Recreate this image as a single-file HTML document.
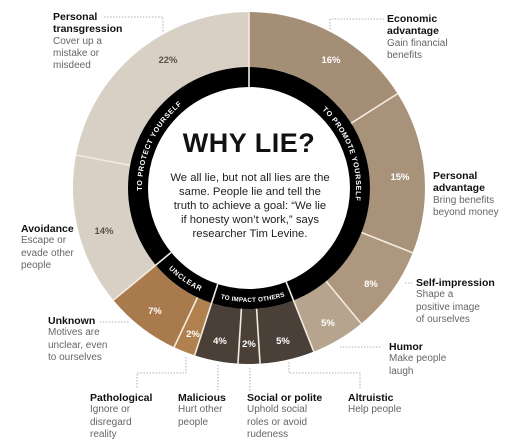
<!DOCTYPE html>
<html><head><meta charset="utf-8"><style>
html,body{margin:0;padding:0;background:#fff;}
body{width:512px;height:441px;overflow:hidden;position:relative;font-family:"Liberation Sans",sans-serif;}
.l{position:absolute;font-size:10px;line-height:12.3px;color:#666;white-space:nowrap;}
.l b{color:#111;font-size:10.5px;display:block;}
</style></head><body>
<svg width="512" height="441" style="position:absolute;left:0;top:0" font-family="Liberation Sans, sans-serif">
<g transform="rotate(-90 249 188)" fill="none" stroke-width="55">
<circle cx="249" cy="188" r="148.5" pathLength="100" stroke="#a58e76" stroke-dasharray="16 100" stroke-dashoffset="0"/>
<circle cx="249" cy="188" r="148.5" pathLength="100" stroke="#a8927a" stroke-dasharray="15 100" stroke-dashoffset="-16"/>
<circle cx="249" cy="188" r="148.5" pathLength="100" stroke="#ad977f" stroke-dasharray="8 100" stroke-dashoffset="-31"/>
<circle cx="249" cy="188" r="148.5" pathLength="100" stroke="#b7a48e" stroke-dasharray="5 100" stroke-dashoffset="-39"/>
<circle cx="249" cy="188" r="148.5" pathLength="100" stroke="#4b4038" stroke-dasharray="11 100" stroke-dashoffset="-44"/>
<circle cx="249" cy="188" r="148.5" pathLength="100" stroke="#b0804f" stroke-dasharray="2 100" stroke-dashoffset="-55"/>
<circle cx="249" cy="188" r="148.5" pathLength="100" stroke="#a97a4b" stroke-dasharray="7 100" stroke-dashoffset="-57"/>
<circle cx="249" cy="188" r="148.5" pathLength="100" stroke="#d9d0c5" stroke-dasharray="36 100" stroke-dashoffset="-64"/>
</g>
<circle cx="249" cy="188" r="111" fill="none" stroke="#000" stroke-width="20"/>
<g stroke="#f3ebe0" stroke-width="1.6">
<line x1="249" y1="87" x2="249" y2="12" transform="rotate(0 249 188)"/>
<line x1="249" y1="67" x2="249" y2="12" transform="rotate(57.6 249 188)"/>
<line x1="249" y1="67" x2="249" y2="12" transform="rotate(111.6 249 188)"/>
<line x1="249" y1="67" x2="249" y2="12" transform="rotate(140.4 249 188)"/>
<line x1="249" y1="87" x2="249" y2="12" transform="rotate(158.4 249 188)"/>
<line x1="249" y1="67" x2="249" y2="12" transform="rotate(176.4 249 188)"/>
<line x1="249" y1="67" x2="249" y2="12" transform="rotate(183.6 249 188)"/>
<line x1="249" y1="87" x2="249" y2="12" transform="rotate(198 249 188)"/>
<line x1="249" y1="67" x2="249" y2="12" transform="rotate(205.2 249 188)"/>
<line x1="249" y1="87" x2="249" y2="12" transform="rotate(230.4 249 188)"/>
<line x1="249" y1="67" x2="249" y2="12" transform="rotate(280.8 249 188)"/>
</g>
<defs>
<path id="p1" d="M167,256.8 A107,107 0 0 1 249,81"/>
<path id="p2" d="M249,81 A107,107 0 0 1 317.8,270"/>
<path id="p3" d="M155.6,253.4 A114,114 0 0 0 219.5,298.1"/>
<path id="p4" d="M213.8,296.4 A114,114 0 0 0 291.7,293.7"/>
</defs>
<g fill="#fff" font-size="7.2" font-weight="bold" letter-spacing="0.6">
<text><textPath href="#p1" startOffset="50%" text-anchor="middle">TO PROTECT YOURSELF</textPath></text>
<text><textPath href="#p2" startOffset="50%" text-anchor="middle">TO PROMOTE YOURSELF</textPath></text>
<text><textPath href="#p3" startOffset="50%" text-anchor="middle">UNCLEAR</textPath></text>
<text font-size="6.3" letter-spacing="0.2"><textPath href="#p4" startOffset="50%" text-anchor="middle">TO IMPACT OTHERS</textPath></text>
</g>
<g font-size="9.5" font-weight="bold" text-anchor="middle">
<text x="168" y="63" fill="#5a5047">22%</text>
<text x="104" y="234" fill="#5a5047">14%</text>
<text x="331" y="63" fill="#fff">16%</text>
<text x="400" y="180" fill="#fff">15%</text>
<text x="371" y="287" fill="#fff">8%</text>
<text x="328" y="326" fill="#fff">5%</text>
<text x="283" y="344" fill="#fff">5%</text>
<text x="249" y="347" fill="#fff">2%</text>
<text x="220" y="344" fill="#fff">4%</text>
<text x="193" y="337" fill="#fff">2%</text>
<text x="155" y="314" fill="#fff">7%</text>
</g>
<text x="249" y="152" text-anchor="middle" font-size="27" font-weight="bold" fill="#111" letter-spacing="0.5">WHY LIE?</text>
<g font-size="11.3" fill="#222" text-anchor="middle">
<text x="250" y="181">We all lie, but not all lies are the</text>
<text x="250" y="195">same. People lie and tell the</text>
<text x="250" y="209">truth to achieve a goal: “We lie</text>
<text x="250" y="223">if honesty won’t work,” says</text>
<text x="250" y="237">researcher Tim Levine.</text>
</g>
<g fill="none" stroke="#999" stroke-width="0.8" stroke-dasharray="1.5 1.5">
<polyline points="104,17 163,17 163,33"/>
<polyline points="384,19 330,19 330,30"/>
<polyline points="405,283 412,283"/>
<polyline points="100,322 130,322"/>
<polyline points="340,347 382,347"/>
<polyline points="186,357 186,373 137,373 137,388"/>
<polyline points="218,365 218,390"/>
<polyline points="250,368 250,392"/>
<polyline points="289,362 289,373 360,373 360,390"/>
</g>
</svg>
<div class="l" style="left:53px;top:11px"><b>Personal<br>transgression</b>Cover up a<br>mistake or<br>misdeed</div>
<div class="l" style="left:387px;top:13px"><b>Economic<br>advantage</b>Gain financial<br>benefits</div>
<div class="l" style="left:433px;top:170px"><b>Personal<br>advantage</b>Bring benefits<br>beyond money</div>
<div class="l" style="left:21px;top:223px"><b>Avoidance</b>Escape or<br>evade other<br>people</div>
<div class="l" style="left:416px;top:277px"><b>Self-impression</b>Shape a<br>positive image<br>of ourselves</div>
<div class="l" style="left:48px;top:315px"><b>Unknown</b>Motives are<br>unclear, even<br>to ourselves</div>
<div class="l" style="left:389px;top:341px"><b>Humor</b>Make people<br>laugh</div>
<div class="l" style="left:90px;top:392px"><b>Pathological</b>Ignore or<br>disregard<br>reality</div>
<div class="l" style="left:178px;top:392px"><b>Malicious</b>Hurt other<br>people</div>
<div class="l" style="left:247px;top:392px"><b>Social or polite</b>Uphold social<br>roles or avoid<br>rudeness</div>
<div class="l" style="left:348px;top:392px"><b>Altruistic</b>Help people</div>
</body></html>
